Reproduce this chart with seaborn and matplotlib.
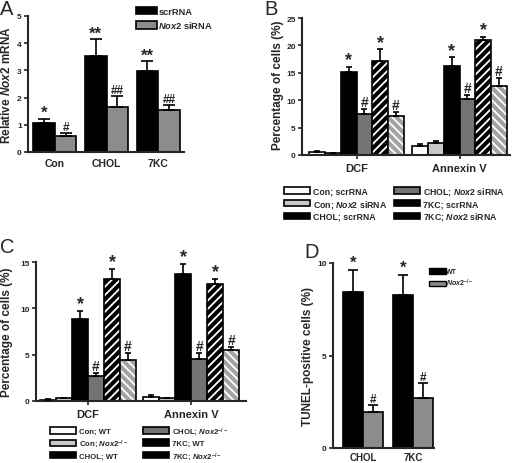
import numpy as np
import pandas as pd
import matplotlib
matplotlib.use('Agg')
import matplotlib.pyplot as plt
import seaborn as sns
from matplotlib.patches import Patch
from matplotlib.colors import to_rgba

# ---------------- data ----------------
A_groups = ['Con', 'CHOL', '7KC']
A_hues = ['scrRNA', r'$\it{Nox2}$ siRNA']
A_scr = [1.08, 3.53, 2.96]
A_scr_err = [0.15, 0.61, 0.37]
A_si = [0.59, 1.67, 1.54]
A_si_err = [0.10, 0.40, 0.18]
A_scr_marks = ['*', '**', '**']
A_si_marks = ['#', '##', '##']

B_groups = ['DCF', 'Annexin V']
B_conds = ['Con; scrRNA', r'Con; $\it{Nox2}$ siRNA', 'CHOL; scrRNA',
           r'CHOL; $\it{Nox2}$ siRNA', '7KC; scrRNA', r'7KC; $\it{Nox2}$ siRNA']
B_vals = [[0.6, 1.7], [0.45, 2.1], [15.2, 16.2], [7.4, 10.3], [17.2, 21.0], [7.2, 12.6]]
B_errs = [[0.1, 0.25], [0.0, 0.5], [0.9, 1.6], [1.0, 0.7], [2.1, 0.5], [0.6, 1.4]]
B_marks = ['', '', '*', '#', '*', '#']

C_groups = ['DCF', 'Annexin V']
C_conds = ['Con; WT', r'Con; $\it{Nox2}^{-/-}$', 'CHOL; WT',
           r'CHOL; $\it{Nox2}^{-/-}$', '7KC; WT', r'7KC; $\it{Nox2}^{-/-}$']
C_vals = [[0.15, 0.45], [0.3, 0.3], [8.8, 13.7], [2.7, 4.5], [13.2, 12.6], [4.4, 5.5]]
C_errs = [[0.05, 0.2], [0.05, 0.05], [0.9, 1.1], [0.35, 0.7], [1.0, 0.6], [0.8, 0.3]]
C_marks = ['', '', '*', '#', '*', '#']

D_groups = ['CHOL', '7KC']
D_hues = ['WT', r'$\it{Nox2}^{-/-}$']
D_wt = [8.45, 8.28]
D_wt_err = [1.15, 1.05]
D_ko = [1.95, 2.70]
D_ko_err = [0.40, 0.80]
D_marks = [['*', '*'], ['#', '#']]

six_colors = ['#ffffff', '#c8c8c8', '#000000', '#737373', '#000000', '#a3a3a3']
six_hatch = [None, None, None, None, '////', '\\\\\\\\']

# ---------------- style ----------------
sns.set_theme(style='ticks')
plt.rcParams['font.family'] = ['Liberation Sans', 'DejaVu Sans']
plt.rcParams['font.weight'] = 'bold'
plt.rcParams['mathtext.fontset'] = 'custom'
plt.rcParams['mathtext.rm'] = 'Liberation Sans:bold'
plt.rcParams['mathtext.it'] = 'Liberation Sans:italic:bold'
plt.rcParams['mathtext.bf'] = 'Liberation Sans:bold'
plt.rcParams['hatch.linewidth'] = 1.3

W, H = 512, 464
fig = plt.figure(figsize=(W / 100, H / 100), dpi=100)


def add_ax(l, t, r, b):
    return fig.add_axes([l / W, 1 - b / H, (r - l) / W, (b - t) / H])


def make_df(groups, hues, vals):
    rows = []
    for h, vv in zip(hues, vals):
        for g, v in zip(groups, vv):
            rows.append(dict(group=g, cond=h, value=v))
    return pd.DataFrame(rows)


def draw(ax, groups, hues, vals, errs, marks, colors, width, hatches,
         capsize, starsize, hashsize, off_star, off_hash):
    df = make_df(groups, hues, vals)
    sns.barplot(data=df, x='group', y='value', hue='cond', order=groups,
                hue_order=hues, palette=dict(zip(hues, colors)), width=width,
                errorbar=None, edgecolor='black', linewidth=1.2, saturation=1,
                legend=False, ax=ax)
    patches = list(ax.patches)
    k = 0
    for hi in range(len(hues)):
        for gi in range(len(groups)):
            p = patches[k]
            k += 1
            if hatches[hi]:
                p.set_hatch(hatches[hi])
                p._hatch_color = to_rgba('white')
            x = p.get_x() + p.get_width() / 2
            y = p.get_height()
            e = errs[hi][gi]
            ax.errorbar([x], [y], yerr=[[0], [e]], fmt='none', ecolor='black',
                        elinewidth=1.2, capsize=capsize, capthick=1.2, zorder=3)
            m = marks[hi][gi] if isinstance(marks[hi], list) else marks[hi]
            if m:
                if '*' in m:
                    ax.text(x, y + e + off_star, m, ha='center', va='center',
                            fontsize=starsize, fontweight='bold')
                else:
                    ax.text(x, y + e + off_hash, m, ha='center', va='bottom',
                            fontsize=hashsize, fontweight='bold')
    ax.set_xlabel('')
    for s in ['top', 'right']:
        ax.spines[s].set_visible(False)
    for s in ['left', 'bottom']:
        ax.spines[s].set_linewidth(1.5)
    ax.tick_params(axis='y', length=3, width=1.2, labelsize=6, pad=1.5)


# ---------------- Panel A ----------------
axA = add_ax(28, 17, 184, 153)
draw(axA, A_groups, A_hues, [A_scr, A_si], [A_scr_err, A_si_err],
     [A_scr_marks, A_si_marks], ['#000000', '#8c8c8c'], 0.835, [None, None],
     4.5, 12, 8.5, 0.22, 0.0)
axA.set_xlim(-0.52, 2.5)
axA.set_ylim(0, 5)
axA.set_yticks([0, 1, 2, 3, 4, 5])
axA.set_ylabel(r'Relative $\it{Nox2}$ mRNA', fontsize=8.5, fontweight='bold', labelpad=3)
axA.tick_params(axis='x', length=0, labelsize=7.5, pad=4)
legA = [Patch(facecolor=c, edgecolor='black', linewidth=1.2, label=l)
        for c, l in zip(['#000000', '#8c8c8c'], A_hues)]
fig.legend(handles=legA, loc='upper left', bbox_to_anchor=(136 / W, 1 - 8 / H),
           frameon=False, fontsize=6.7, handlelength=2.3, handleheight=0.8,
           handletextpad=0.1, labelspacing=0.35, borderpad=0, borderaxespad=0)

# ---------------- Panel B ----------------
axB = add_ax(302, 19, 510, 156)
draw(axB, B_groups, B_conds, B_vals, B_errs, B_marks, six_colors, 0.92,
     six_hatch, 2.5, 13, 10, 1.3, 0.0)
axB.set_xlim(-0.53, 1.49)
axB.set_ylim(0, 25)
axB.set_yticks([0, 5, 10, 15, 20, 25])
axB.set_ylabel('Percentage of cells (%)', fontsize=8.5, fontweight='bold')
axB.yaxis.set_label_coords(-0.085, 0.52)
axB.tick_params(axis='x', length=3, width=1.2, labelsize=8, pad=3)
legB = [Patch(facecolor=c, edgecolor='black', linewidth=1.2, label=l)
        for c, l in zip(['#ffffff', '#c8c8c8', '#000000', '#737373', '#000000', '#000000'], B_conds)]
fig.legend(handles=legB, loc='upper left', bbox_to_anchor=(284 / W, 1 - 186 / H),
           ncol=2, frameon=False, fontsize=6.3, handlelength=3.0, handleheight=0.75,
           handletextpad=0.3, labelspacing=0.25, columnspacing=0.8,
           borderpad=0, borderaxespad=0)

# ---------------- Panel C ----------------
axC = add_ax(36, 263, 246, 402)
draw(axC, C_groups, C_conds, C_vals, C_errs, C_marks, six_colors, 0.93,
     six_hatch, 2.5, 13, 10, 0.8, 0.0)
axC.set_xlim(-0.505, 1.53)
axC.set_ylim(0, 15)
axC.set_yticks([0, 5, 10, 15])
axC.set_ylabel('Percentage of cells (%)', fontsize=8.5, fontweight='bold', labelpad=5)
axC.tick_params(axis='x', length=3, width=1.2, labelsize=8, pad=3)
legC = [Patch(facecolor=c, edgecolor='black', linewidth=1.2, label=l)
        for c, l in zip(['#ffffff', '#c8c8c8', '#000000', '#737373', '#000000', '#000000'], C_conds)]
fig.legend(handles=legC, loc='upper left', bbox_to_anchor=(50 / W, 1 - 426 / H),
           ncol=2, frameon=False, fontsize=5.6, handlelength=3.3, handleheight=0.9,
           handletextpad=0.4, labelspacing=0.35, columnspacing=1.9,
           borderpad=0, borderaxespad=0)

# ---------------- Panel D ----------------
axD = add_ax(333, 264, 434, 449)
draw(axD, D_groups, D_hues, [D_wt, D_ko], [D_wt_err, D_ko_err], D_marks,
     ['#000000', '#8c8c8c'], 0.8, [None, None], 3.5, 12, 8.5, 0.45, 0.0)
axD.set_xlim(-0.6, 1.42)
axD.set_ylim(0, 10)
axD.set_yticks([0, 5, 10])
axD.set_ylabel('TUNEL-positive cells (%)', fontsize=8.5, fontweight='bold', labelpad=2)
axD.tick_params(axis='x', length=0, labelsize=7, pad=3)
legD = [Patch(facecolor=c, edgecolor='black', linewidth=1.0, label=l)
        for c, l in zip(['#000000', '#8c8c8c'], D_hues)]
fig.legend(handles=legD, loc='upper left', bbox_to_anchor=(429 / W, 1 - 269 / H),
           frameon=False, fontsize=5, handlelength=2.4, handleheight=0.9,
           handletextpad=0.1, labelspacing=0.25, borderpad=0, borderaxespad=0)

# ---------------- panel letters ----------------
for letter, (x, y) in zip('ABCD', [(0, 0), (264, 0), (0, 238), (304, 243)]):
    fig.text(x / W, 1 - y / H, letter, fontsize=14.5, fontweight='normal',
             ha='left', va='top', family=['Liberation Sans', 'DejaVu Sans'])

fig.savefig('out.png', dpi=100)
